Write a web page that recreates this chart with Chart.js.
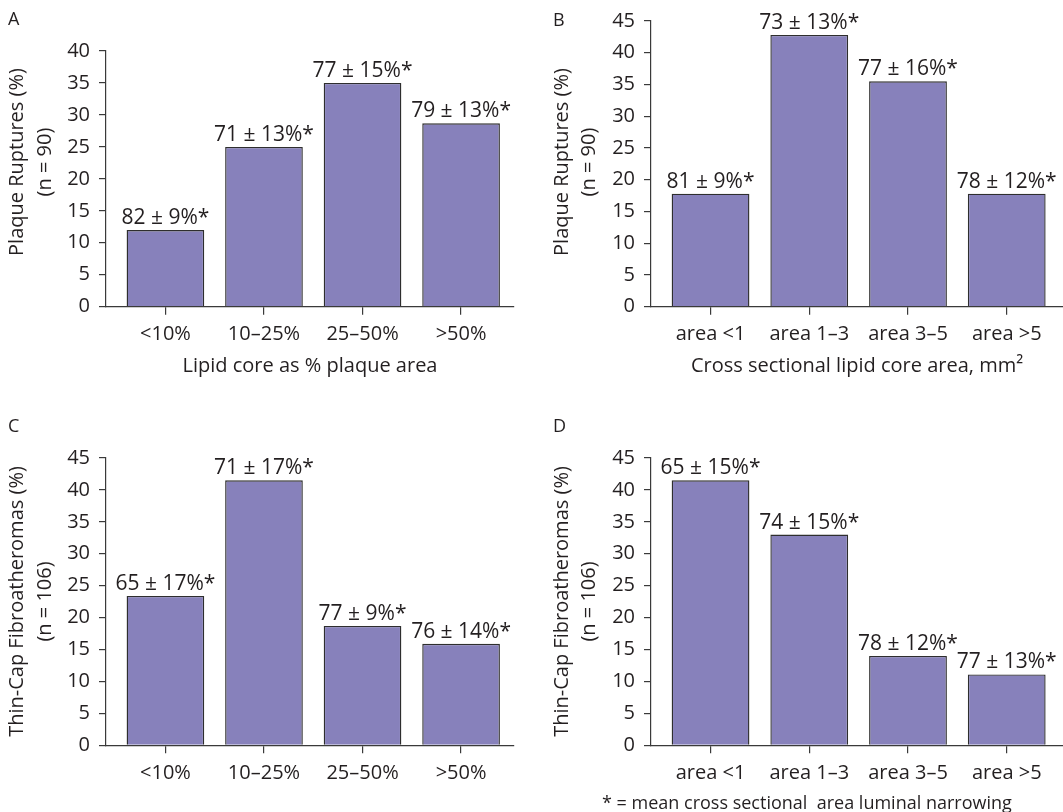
<!DOCTYPE html>
<html>
<head>
<meta charset="utf-8">
<script src="https://cdn.jsdelivr.net/npm/chart.js@4/dist/chart.umd.min.js"></script>
<style>
  html, body { margin: 0; padding: 0; background: #ffffff; }
  #figure { position: relative; width: 1063px; height: 812px; overflow: hidden; }
  .panel { position: absolute; }
</style>
</head>
<body>
<div id="figure">
  <div class="panel" style="left:0;top:0;width:530px;height:400px"><canvas id="panelA"></canvas></div>
  <div class="panel" style="left:530px;top:0;width:533px;height:400px"><canvas id="panelB"></canvas></div>
  <div class="panel" style="left:0;top:400px;width:530px;height:412px"><canvas id="panelC"></canvas></div>
  <div class="panel" style="left:530px;top:400px;width:533px;height:412px"><canvas id="panelD"></canvas></div>
</div>
<script>
// Categories
const lipidPctLabels  = ['<10%', '10–25%', '25–50%', '>50%'];
const lipidAreaLabels = ['area <1', 'area 1–3', 'area 3–5', 'area >5'];

// Percent of lesions per category
const ruptureByPct  = [12.0, 25.0, 35.0, 28.7];
const ruptureByArea = [17.8, 42.8, 35.5, 17.8];
const tcfaByPct     = [23.4, 41.5, 18.7, 15.9];
const tcfaByArea    = [41.5, 33.0, 14.0, 11.1];

// Mean cross sectional area luminal narrowing above each bar
const ruptureByPctNotes  = ['82 ± 9%*', '71 ± 13%*', '77 ± 15%*', '79 ± 13%*'];
const ruptureByAreaNotes = ['81 ± 9%*', '73 ± 13%*', '77 ± 16%*', '78 ± 12%*'];
const tcfaByPctNotes     = ['65 ± 17%*', '71 ± 17%*', '77 ± 9%*', '76 ± 14%*'];
const tcfaByAreaNotes    = ['65 ± 15%*', '74 ± 15%*', '78 ± 12%*', '77 ± 13%*'];

// Value axis limits
const ruptureByPctMax = 40;
const otherPanelsMax  = 45;
const yStep = 5;

const FONT = '"Open Sans", "Noto Sans", sans-serif';
const INK = '#231f20';
const AXIS = '#3a3a3a';
const BAR_FILL = '#8781bb';
const BAR_EDGE = '#2e2e2e';

// Draws panel letter, two-line rotated y title, bar annotations and footnote
const panelText = {
  id: 'panelText',
  afterDatasetsDraw(chart, args, o) {
    const ctx = chart.ctx;
    ctx.save();
    ctx.fillStyle = INK;
    ctx.font = '21px ' + FONT;
    ctx.textAlign = 'center';
    ctx.textBaseline = 'alphabetic';
    const meta = chart.getDatasetMeta(0);
    meta.data.forEach((bar, i) => {
      ctx.fillText(o.notes[i], bar.x, bar.y - 6);
    });
    ctx.restore();
  },
  afterDraw(chart, args, o) {
    const ctx = chart.ctx;
    ctx.save();
    ctx.fillStyle = INK;
    ctx.font = '18px ' + FONT;
    ctx.textAlign = 'left';
    ctx.textBaseline = 'middle';
    ctx.fillText(o.letter, o.letterX, o.letterY);

    ctx.font = '20px ' + FONT;
    ctx.textAlign = 'center';
    o.yTitle.forEach((line, i) => {
      ctx.save();
      ctx.translate(o.yTitleX[i], o.yTitleY);
      ctx.rotate(-Math.PI / 2);
      ctx.fillText(line, 0, 0);
      ctx.restore();
    });

    if (o.footnote) {
      ctx.font = '18px ' + FONT;
      ctx.textAlign = 'left';
      ctx.fillText(o.footnote, o.footX, o.footY);
    }
    ctx.restore();
  }
};

function makePanel(id, cfg) {
  const labels = cfg.labels;
  const points = cfg.values.map((v, i) => ({ x: i, y: v }));
  return new Chart(document.getElementById(id), {
    type: 'bar',
    data: {
      datasets: [{
        data: points,
        backgroundColor: BAR_FILL,
        borderColor: BAR_EDGE,
        borderWidth: 1.4,
        borderSkipped: 'start',
        categoryPercentage: 1.0,
        barPercentage: 0.788
      }]
    },
    plugins: [panelText],
    options: {
      responsive: true,
      maintainAspectRatio: false,
      animation: false,
      events: [],
      layout: { padding: { top: cfg.padTop, right: cfg.padRight, bottom: 0, left: 0 } },
      plugins: {
        legend: { display: false },
        tooltip: { enabled: false },
        panelText: {
          letter: cfg.letter, letterX: cfg.letterX, letterY: cfg.letterY,
          yTitle: cfg.yTitle, yTitleX: cfg.yTitleX, yTitleY: cfg.yTitleY,
          notes: cfg.notes,
          footnote: cfg.footnote, footX: cfg.footX, footY: cfg.footY
        }
      },
      scales: {
        x: {
          type: 'linear',
          offset: false,
          bounds: 'data',
          min: -0.603,
          max: cfg.xMax,
          afterBuildTicks: ax => { ax.ticks = labels.map((_, i) => ({ value: i })); },
          afterFit: ax => { ax.height = cfg.xAxisHeight; },
          ticks: {
            callback: v => labels[v],
            autoSkip: false,
            maxRotation: 0,
            padding: 8,
            color: INK,
            font: { family: FONT, size: 20 }
          },
          grid: { offset: false, drawOnChartArea: false, drawTicks: true, tickLength: 8, color: AXIS, lineWidth: 1.2 },
          border: { display: true, color: AXIS, width: 1.2 },
          title: {
            display: !!cfg.xTitle,
            text: cfg.xTitle || '',
            color: INK,
            font: { family: FONT, size: 20, lineHeight: 1.2 },
            padding: { top: 0, bottom: 22 }
          }
        },
        y: {
          min: 0,
          max: cfg.yMax,
          afterFit: ax => { ax.width = cfg.yAxisWidth; },
          ticks: { stepSize: yStep, padding: 9, color: INK, font: { family: FONT, size: 20 } },
          grid: { drawOnChartArea: false, drawTicks: true, tickLength: 7, color: AXIS, lineWidth: 1.2 },
          border: { display: true, color: AXIS, width: 1.2 }
        }
      }
    }
  });
}

makePanel('panelA', {
  labels: lipidPctLabels, values: ruptureByPct, notes: ruptureByPctNotes,
  yMax: ruptureByPctMax, padTop: 51, padRight: 16, yAxisWidth: 106, xAxisHeight: 93.3, xMax: 3.537,
  xTitle: 'Lipid core as % plaque area',
  letter: 'A', letterX: 8, letterY: 20,
  yTitle: ['Plaque Ruptures (%)', '(n = 90)'], yTitleX: [17, 45], yTitleY: 162
});

makePanel('panelB', {
  labels: lipidAreaLabels, values: ruptureByArea, notes: ruptureByAreaNotes,
  yMax: otherPanelsMax, padTop: 20, padRight: 0, yAxisWidth: 121, xAxisHeight: 93.3, xMax: 3.57,
  xTitle: 'Cross sectional lipid core area, mm²',
  letter: 'B', letterX: 23, letterY: 21,
  yTitle: ['Plaque Ruptures (%)', '(n = 90)'], yTitleX: [32, 59.5], yTitleY: 162
});

makePanel('panelC', {
  labels: lipidPctLabels, values: tcfaByPct, notes: tcfaByPctNotes,
  yMax: otherPanelsMax, padTop: 58, padRight: 16, yAxisWidth: 106, xAxisHeight: 66.7, xMax: 3.537,
  xTitle: null,
  letter: 'C', letterX: 8, letterY: 27,
  yTitle: ['Thin-Cap Fibroatheromas (%)', '(n = 106)'], yTitleX: [17, 45], yTitleY: 201.5
});

makePanel('panelD', {
  labels: lipidAreaLabels, values: tcfaByArea, notes: tcfaByAreaNotes,
  yMax: otherPanelsMax, padTop: 58, padRight: 0, yAxisWidth: 121, xAxisHeight: 66.7, xMax: 3.57,
  xTitle: null,
  letter: 'D', letterX: 23, letterY: 27,
  yTitle: ['Thin-Cap Fibroatheromas (%)', '(n = 106)'], yTitleX: [32, 59.5], yTitleY: 201.5,
  footnote: '* = mean cross sectional  area luminal narrowing', footX: 72, footY: 404
});
</script>
</body>
</html>
